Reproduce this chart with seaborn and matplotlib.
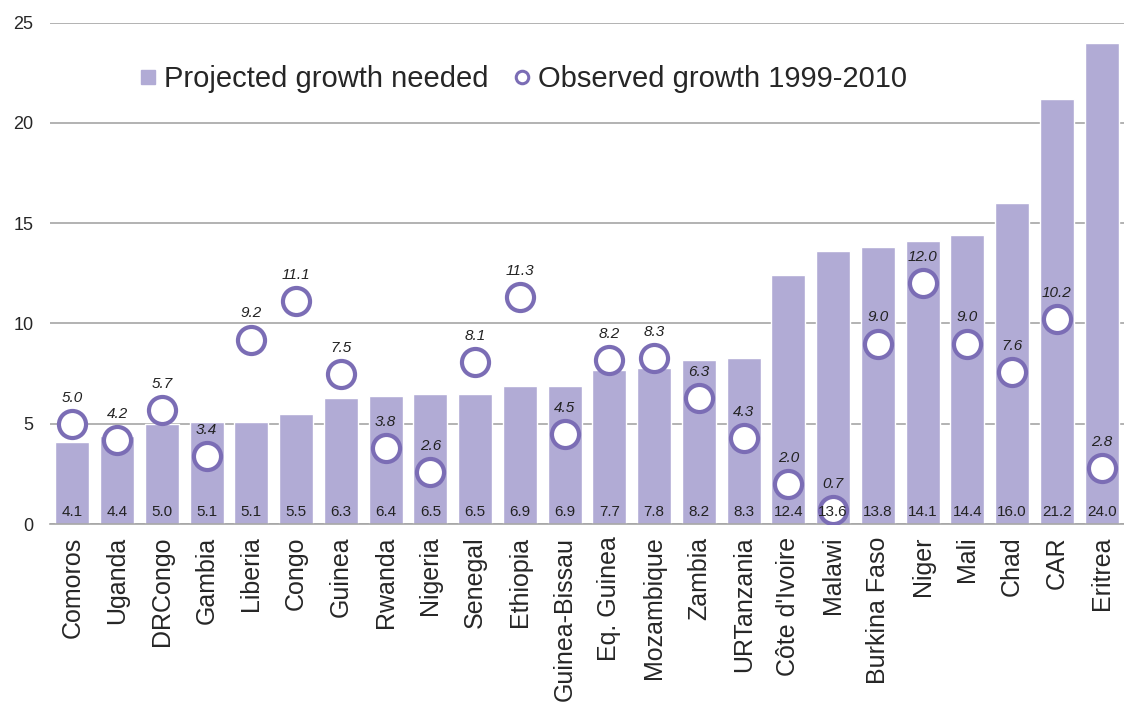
import matplotlib
matplotlib.use("Agg")
import matplotlib.pyplot as plt
import seaborn as sns
import pandas as pd
from matplotlib.lines import Line2D

countries = ["Comoros", "Uganda", "DRCongo", "Gambia", "Liberia", "Congo", "Guinea",
             "Rwanda", "Nigeria", "Senegal", "Ethiopia", "Guinea-Bissau", "Eq. Guinea",
             "Mozambique", "Zambia", "URTanzania", "Côte d'Ivoire", "Malawi",
             "Burkina Faso", "Niger", "Mali", "Chad", "CAR", "Eritrea"]
projected = [4.1, 4.4, 5.0, 5.1, 5.1, 5.5, 6.3, 6.4, 6.5, 6.5, 6.9, 6.9, 7.7, 7.8,
             8.2, 8.3, 12.4, 13.6, 13.8, 14.1, 14.4, 16.0, 21.2, 24.0]
observed = [5.0, 4.2, 5.7, 3.4, 9.2, 11.1, 7.5, 3.8, 2.6, 8.1, 11.3, 4.5, 8.2, 8.3,
            6.3, 4.3, 2.0, 0.7, 9.0, 12.0, 9.0, 7.6, 10.2, 2.8]
y_ticks = [0, 5, 10, 15, 20, 25]

df = pd.DataFrame({"country": countries, "projected": projected, "observed": observed})

sns.set_style("white")
plt.rcParams["font.family"] = ["Liberation Sans", "DejaVu Sans"]

bar_color = "#B1ABD5"
ring_color = "#7B6DB5"

fig = plt.figure(figsize=(11.24, 7.05), dpi=100)
ax = fig.add_axes([0.0445, 0.2567, 0.9555, 0.7111])

sns.barplot(data=df, x="country", y="projected", color=bar_color, width=0.76,
            saturation=1, ax=ax, zorder=2)
sns.scatterplot(data=df, x="country", y="observed", s=380, marker="o",
                facecolor="white", edgecolor=ring_color, linewidth=3.0, ax=ax,
                zorder=4, legend=False)

for i, (p, o) in enumerate(zip(projected, observed)):
    ax.text(i, 0.6, f"{p:.1f}", ha="center", va="center", fontsize=11,
            color="#222222", zorder=5)
    ax.text(i, o + 1.3, f"{o:.1f}", ha="center", va="center", fontsize=11,
            style="italic", color="#222222", zorder=5)

n = len(countries)
ax.set_xlim(-0.5, n - 0.5)
ax.set_ylim(0, 25)
ax.set_yticks(y_ticks)
ax.set_yticklabels([str(t) for t in y_ticks], fontsize=13)
ax.yaxis.grid(True, color="#A6A6A6", linewidth=1.2, zorder=0)
ax.set_axisbelow(True)
ax.set_xlabel("")
ax.set_ylabel("")
for s in ["top", "right", "left"]:
    ax.spines[s].set_visible(False)
ax.spines["bottom"].set_color("#A6A6A6")
ax.spines["bottom"].set_linewidth(1.2)

ax.set_xticks(range(n))
ax.set_xticklabels(countries, rotation=90, fontsize=18)
ax.tick_params(axis="x", length=0, pad=9)
ax.tick_params(axis="y", length=0, pad=12)
ax.set_xticks([i - 0.5 for i in range(n + 1)], minor=True)
ax.tick_params(axis="x", which="minor", length=7, color="#A6A6A6", width=1.2)

handles = [
    Line2D([], [], marker="s", linestyle="none", markersize=10,
           markerfacecolor=bar_color, markeredgecolor=bar_color),
    Line2D([], [], marker="o", linestyle="none", markersize=9,
           markerfacecolor="white", markeredgecolor=ring_color, markeredgewidth=2.2),
]
ax.legend(handles, ["Projected growth needed", "Observed growth 1999-2010"],
          loc="upper left", bbox_to_anchor=(0.056, 0.968), ncol=2, frameon=False,
          fontsize=21, handletextpad=0.15, columnspacing=0.75, handlelength=0.8)

fig.savefig("out.png", dpi=100)
